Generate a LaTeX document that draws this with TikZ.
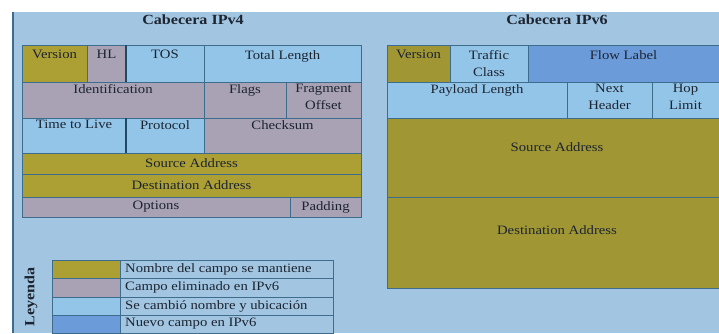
\documentclass[tikz,border=0pt]{standalone}
\usepackage{fontspec}
\setmainfont{Liberation Serif}[FakeStretch=1.15]
\definecolor{pagebg}{HTML}{A2C5E1}
\definecolor{keep}{HTML}{ACA034}
\definecolor{keepdark}{HTML}{A09634}
\definecolor{gone}{HTML}{A8A2B4}
\definecolor{moved}{HTML}{93C5E9}
\definecolor{newf}{HTML}{6C9BDA}
\definecolor{rule}{HTML}{3E6C8C}
\definecolor{ruledark}{HTML}{1F4A66}
\definecolor{ink}{HTML}{1C2430}
\tikzset{
  field/.style={draw=rule, line width=0.6pt},
  heavyrule/.style={draw=ruledark, line width=1.1pt},
  ftext/.style={anchor=north, inner sep=0pt, text=ink, font=\fontsize{12.8}{17}\selectfont, align=center},
  ctext/.style={anchor=center, inner sep=0pt, text=ink, font=\fontsize{12.8}{17}\selectfont, align=center},
  ltext/.style={anchor=west, inner sep=0pt, text=ink, font=\fontsize{12.8}{17}\selectfont},
  title/.style={inner sep=0pt, text=ink, font=\fontsize{14}{16}\selectfont\bfseries},
}
\begin{document}
\begin{tikzpicture}[x=1pt,y=-1pt]
\useasboundingbox (0,0) rectangle (719,333);
\fill[white] (0,0) rectangle (719,333);
% panel background
\fill[pagebg] (12,12) rectangle (719,333);
\draw[rule, line width=1.2pt] (13,12) -- (13,333);

% ---------- IPv4 header ----------
\node[title] (t4) at (193,20) {Cabecera IPv4};
% row 1
\draw[field, fill=keep]  (22,45) rectangle (87,82);
\draw[field, fill=gone]  (87,45) rectangle (126,82);
\draw[field, fill=moved] (126,45) rectangle (204,82);
\draw[field, fill=moved] (204,45) rectangle (361,82);
\node[ftext] (v4ver) at (54.5,50) {Version};
\node[ftext] (v4hl)  at (106.5,50) {HL};
\node[ftext] (v4tos) at (165,50) {TOS};
\node[ftext] (v4tl)  at (282.5,50) {Total Length};
% row 2
\draw[field, fill=gone] (22,82) rectangle (204,118);
\draw[field, fill=gone] (204,82) rectangle (286,118);
\draw[field, fill=gone] (286,82) rectangle (361,118);
\node[ftext] (v4id) at (113,84) {Identification};
\node[ftext] (v4fl) at (245,84) {Flags};
\node[ftext] (v4fo) at (323.5,84) {Fragment\\Offset};
% row 3
\draw[field, fill=moved] (22,118) rectangle (126,153);
\draw[field, fill=moved] (126,118) rectangle (204,153);
\draw[field, fill=gone]  (204,118) rectangle (361,153);
\node[ftext] (v4ttl) at (74,120) {Time to Live};
\node[ftext] (v4pr)  at (165,120) {Protocol};
\node[ftext] (v4ck)  at (282.5,120) {Checksum};
% heavier dividers at the 8-bit boundary
\draw[heavyrule] (126,45) -- (126,82);
\draw[heavyrule] (126,118) -- (126,153);
% addresses and options
\draw[field, fill=keep] (22,153) rectangle (361,174);
\draw[field, fill=keep] (22,174) rectangle (361,197);
\draw[field, fill=gone] (22,197) rectangle (290,217);
\draw[field, fill=gone] (290,197) rectangle (361,217);
\node[ctext] (v4src) at (191.5,163.5) {Source Address};
\node[ctext] (v4dst) at (191.5,185.5) {Destination Address};
\node[ctext] (v4opt) at (156,207) {Options};
\node[ctext] (v4pad) at (325.5,207) {Padding};

% ---------- legend ----------
\node[title, rotate=90] (leg) at (31,297) {Leyenda};
\draw[field, fill=keep]  (52,260) rectangle (120,278);
\draw[field, fill=gone]  (52,278) rectangle (120,297);
\draw[field, fill=moved] (52,297) rectangle (120,315);
\draw[field, fill=newf]  (52,315) rectangle (120,333);
\draw[field] (120,260) rectangle (333,278);
\draw[field] (120,278) rectangle (333,297);
\draw[field] (120,297) rectangle (333,315);
\draw[field] (120,315) rectangle (333,333);
\node[ltext] (l1) at (125,269) {Nombre del campo se mantiene};
\node[ltext] (l2) at (125,287.5) {Campo eliminado en IPv6};
\node[ltext] (l3) at (125,306) {Se cambió nombre y ubicación};
\node[ltext] (l4) at (125,324) {Nuevo campo en IPv6};

% ---------- IPv6 header ----------
\node[title] (t6) at (557,20) {Cabecera IPv6};
% row 1
\draw[field, fill=keepdark] (387,45) rectangle (450,82);
\draw[field, fill=moved]    (450,45) rectangle (528,82);
\draw[field, fill=newf]     (528,45) rectangle (719,82);
\node[ftext] (v6ver) at (418.5,50) {Version};
\node[ftext] (v6tc)  at (489,50) {Traffic\\Class};
\node[ftext] (v6fl)  at (623.5,50) {Flow Label};
% row 2
\draw[field, fill=moved] (387,82) rectangle (567,118);
\draw[field, fill=moved] (567,82) rectangle (652,118);
\draw[field, fill=moved] (652,82) rectangle (719,118);
\node[ftext] (v6pl) at (477,84) {Payload Length};
\node[ftext] (v6nh) at (609.5,84) {Next\\Header};
\node[ftext] (v6hl) at (685.5,84) {Hop\\Limit};
% addresses
\draw[field, fill=keepdark] (387,118) rectangle (719,197);
\draw[field, fill=keepdark] (387,197) rectangle (719,288);
\node[ctext] (v6src) at (557,147) {Source Address};
\node[ctext] (v6dst) at (557,230) {Destination Address};
\end{tikzpicture}
\end{document}
